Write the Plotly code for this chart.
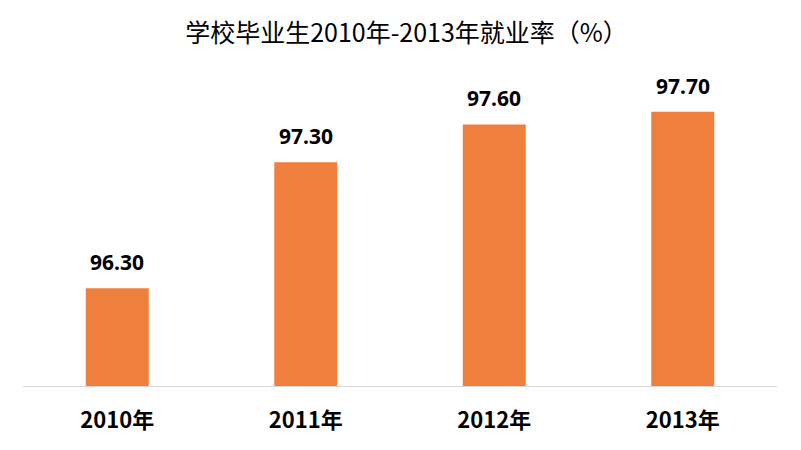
import plotly.graph_objects as go

categories = ["2010年", "2011年", "2012年", "2013年"]
values = [96.30, 97.30, 97.60, 97.70]
value_labels = ["96.30", "97.30", "97.60", "97.70"]
title_text = "学校毕业生2010年-2013年就业率（%）"

W, H = 785, 434  # page body has an 8px margin

fig = go.Figure()
fig.add_trace(go.Bar(
    x=categories, y=values,
    marker=dict(color="#EE7F3C", line=dict(width=0)),
    hoverinfo="skip",
))

for c, v, t in zip(categories, values, value_labels):
    fig.add_annotation(x=c, y=v, text=t, showarrow=False, yanchor="bottom",
                       yshift=10, font=dict(family="Noto Sans", size=21, color="#000000", weight="bold"))

fig.update_layout(
    width=W, height=H,
    margin=dict(l=15, r=16, t=66, b=56, autoexpand=False),
    paper_bgcolor="white", plot_bgcolor="white",
    bargap=0.666,
    showlegend=False,
    title=dict(text=title_text, x=0.5 + 6 / W, xanchor="center", y=1 - 25 / H, yanchor="middle",
               yref="container",
               font=dict(family="Noto Sans CJK SC", size=25, color="#000000")),
    xaxis=dict(showline=True, linecolor="#D9D9D9", linewidth=1, ticks="",
               tickfont=dict(family="Noto Sans CJK SC", size=22, color="#000000", weight="bold"),
               ticklabelstandoff=15, showgrid=False, zeroline=False, automargin=False),
    yaxis=dict(range=[95.525, 98.0], visible=False, showgrid=False, zeroline=False, automargin=False),
)

fig.write_html("out.html")
